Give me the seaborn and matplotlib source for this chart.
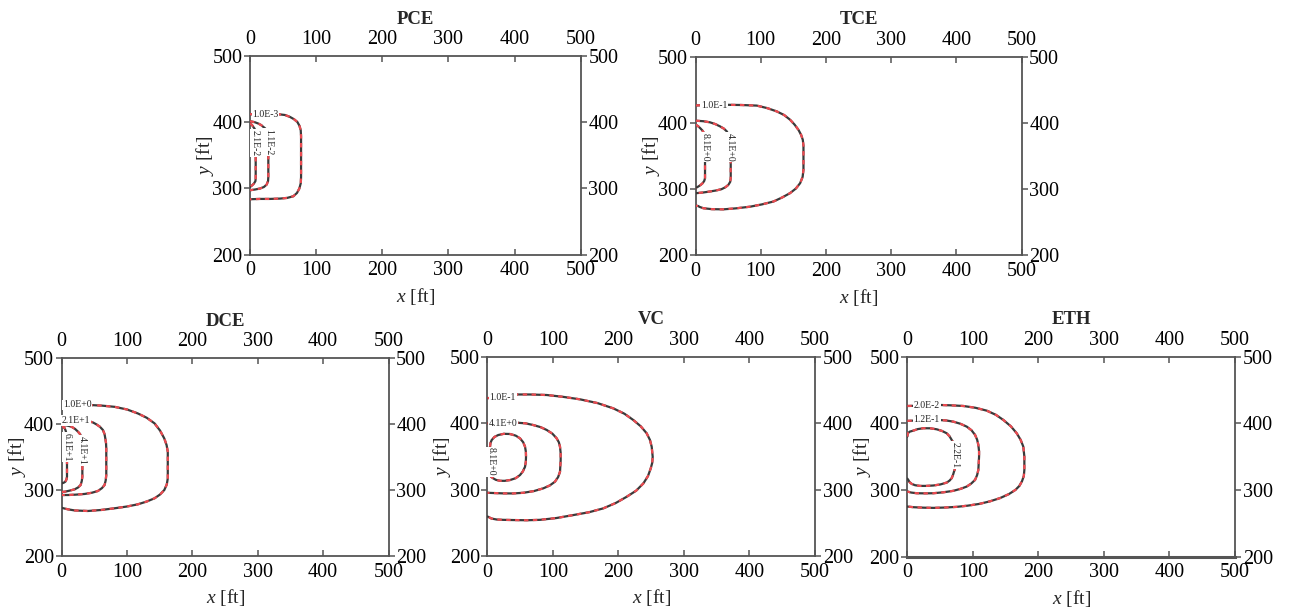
import numpy as np
import pandas as pd
import matplotlib
matplotlib.use("Agg")
import matplotlib.pyplot as plt
import seaborn as sns

sns.set_theme(style="white")
plt.rcParams['font.family'] = ['Liberation Serif', 'DejaVu Serif']
plt.rcParams['mathtext.fontset'] = 'custom'
plt.rcParams['mathtext.rm'] = 'Liberation Serif'
plt.rcParams['mathtext.it'] = 'Liberation Serif:italic'

# ---------------- data ----------------
TITLES = ["PCE", "TCE", "DCE", "VC", "ETH"]
XTICKS = [0, 100, 200, 300, 400, 500]
YTICKS = [200, 300, 400, 500]

PCE_LEVELS = ["1.0E-3", "1.1E-2", "2.1E-2"]
PCE_X = [
    [0, 20, 43, 53, 60.5, 66.5, 71.6, 74.8, 76.7, 77.2, 77.2, 76.8, 74.6, 71, 65.5, 56, 45.4, 30, 15.1, 0],
    [0, 7, 12.6, 17, 20.2, 23, 25.2, 27, 27.7, 27.7, 27.3, 25.2, 21, 15.1, 8, 0],
    [0, 2.8, 5, 7, 8.6, 8.6, 8.2, 6, 3.2, 0],
]
PCE_Y = [
    [412, 412, 412, 410.8, 407.9, 404.5, 400.3, 394.5, 387.8, 379, 317.2, 308, 299.7, 293, 288, 285.5, 284.5, 284, 284, 283.5],
    [401.4, 400, 397.9, 395.5, 392.8, 390.5, 387.8, 383, 378, 317.2, 311, 305.7, 302, 299.7, 298.3, 297.1],
    [397.9, 396, 392.8, 390, 386.7, 314.8, 311, 307.3, 304.5, 302],
]

TCE_LEVELS = ["1.0E-1", "4.1E+0", "8.1E+0"]
TCE_X = [
    [0, 12, 28, 46.8, 70, 94, 110, 124.7, 136, 145, 152, 158, 162, 164.6, 165.6, 165.6, 164.3, 160.5, 154, 145, 133, 119.5, 102, 83.7, 62, 42.7, 25, 12, 6, 4.3, 0],
    [0, 12, 22.3, 30.5, 37.6, 43.5, 47.9, 51, 53, 54, 54, 53.2, 50.4, 46, 40, 31.5, 22.3, 12, 1.8, 0],
    [0, 3.6, 6.9, 10.3, 13, 14.2, 14.6, 14.6, 13.4, 11, 7.8, 4.3, 0],
]
TCE_Y = [
    [426, 426.5, 427, 427, 426.7, 425.8, 422, 417, 411.5, 404.5, 397, 389, 381.5, 374, 365, 329, 318, 308.6, 300.5, 293.5, 287, 280.8, 276.5, 273, 270.5, 269, 269.3, 270.7, 272.8, 274, 274.5],
    [403, 402.2, 400.5, 397.8, 394.4, 391, 386.9, 381.5, 375, 365, 316, 310.5, 306, 302.5, 299.5, 297.5, 296, 294.5, 293.5, 293.3],
    [397, 395, 392, 388.5, 384.4, 379, 372, 316, 312, 308.6, 305.8, 303.5, 301],
]

DCE_LEVELS = ["1.0E+0", "2.1E+1", "4.1E+1", "6.1E+1"]
DCE_X = [
    [0, 20, 42.7, 62, 81, 100, 116.5, 130, 142, 150.5, 157, 160.5, 162.3, 162.3, 160.8, 157, 150.5, 142, 130, 116.5, 100, 81, 60, 40, 20, 9.7, 4, 0],
    [0, 20, 40.2, 47.5, 53, 58.5, 63, 65.5, 66.7, 67.8, 68.2, 68.2, 67.3, 65.6, 61.5, 55.4, 46, 35, 22, 9.7, 0],
    [0, 8, 14.8, 20.5, 25, 28, 30, 31.6, 31.6, 30.7, 29, 25, 19.8, 12, 4.6, 0],
    [0, 2.5, 4.6, 6, 7.1, 8.1, 8.1, 7.3, 5.6, 3, 0],
]
DCE_Y = [
    [427, 428, 428.8, 427.8, 426, 422, 416, 409.5, 401, 390, 378, 368, 358, 317.7, 308.5, 300, 293.2, 287.4, 282.5, 278.3, 275, 272.3, 269.7, 268.2, 269, 270.7, 272, 273],
    [404.5, 405, 404.5, 402.5, 399.5, 395.8, 391, 385, 378.3, 371, 363, 322.7, 314.5, 307.6, 302.8, 298.5, 295.8, 294, 293, 292.4, 292.4],
    [398.5, 397.7, 396, 392.5, 388.3, 384.8, 380.8, 373, 320, 313.5, 307.6, 303.8, 301, 299, 297.4, 297],
    [397, 395.5, 393.5, 390, 386, 380, 320, 316, 312.6, 311, 310],
]

VC_LEVELS = ["1.0E-1", "4.1E+0", "8.1E+0"]
VC_X = [
    [0, 30, 43.5, 65, 90.4, 115, 141.2, 168, 192, 209, 222.6, 234, 243, 248, 250.7, 252.2, 251.5, 249.2, 245, 238, 227, 212.5, 196, 176.8, 155, 131, 105, 80, 60, 39.4, 24, 14, 6, 1.2, 0],
    [0, 20, 44.5, 58, 70, 81, 90.4, 99, 105.6, 109, 110.7, 111.7, 111.7, 110.7, 107.8, 103, 95, 85.2, 71, 54.7, 39, 24, 10, 0],
    [3.8, 4.6, 6.4, 10.6, 16.5, 25, 34.4, 43, 49.6, 54.5, 57.3, 58.6, 58.8, 58.5, 57.3, 54, 49.6, 43, 34.4, 26, 19, 12.8, 8.9, 5.6, 3.8, 3.8],
]
VC_Y = [
    [438, 440, 443.5, 443.5, 442.7, 440, 436.2, 430.5, 422.6, 414.5, 405, 395.5, 385, 375, 364.7, 349.6, 340.5, 332, 320.5, 309.5, 298.5, 289.3, 280, 271.8, 266, 261.7, 257.2, 254.5, 253.9, 254.2, 254.5, 255, 256.5, 259, 259.5],
    [400, 400.5, 401, 400, 397.4, 394.3, 390, 384.5, 377.4, 371.3, 364.7, 355, 344.6, 327, 319, 312, 306.3, 302, 297.9, 295.3, 294.3, 294.4, 294.9, 295.3],
    [364.7, 370.5, 374.8, 379.5, 382.4, 384.2, 383.9, 381.5, 377.4, 371.5, 364.7, 357, 349.6, 342, 334.5, 327.5, 322, 317.3, 314.5, 313.3, 313.4, 314.8, 317, 319.3, 322, 364.7],
]

ETH_LEVELS = ["2.0E-2", "1.2E-1", "2.2E-1"]
ETH_X = [
    [0, 20, 47.3, 66, 85.5, 104, 121.2, 135, 146.6, 158, 167, 173, 177, 178.6, 178.6, 177.8, 175, 171, 165, 155, 141.5, 126, 110, 92, 75, 57, 40, 25, 10, 0],
    [0, 20, 47.3, 59, 70.2, 81, 90.7, 98, 103.4, 106.5, 108.4, 109.5, 109.5, 108.4, 106.5, 103.4, 97.5, 90.7, 81, 70.2, 55, 39.7, 27, 14.4, 6, 0],
    [0, 0.8, 3.8, 9.2, 16, 24.4, 35, 44.9, 53, 60.2, 64.5, 67.8, 70.7, 72.8, 72.8, 72.5, 71.3, 69.8, 67.8, 64.5, 60.2, 50.5, 39.7, 29, 19.4, 12, 6.7, 3.3, 1.5, 0],
]
ETH_Y = [
    [426, 426.5, 427.6, 427, 426, 423.3, 419, 412.8, 405, 395.5, 385, 375, 365, 350, 330, 321, 313, 306, 300, 293.7, 287.7, 282.8, 279, 276.3, 274.5, 273.5, 273, 273.3, 274, 275],
    [403.6, 404.5, 405, 404.3, 402.5, 399.3, 395, 389.5, 382.6, 375.5, 367.6, 358, 350, 330, 322.2, 315, 309.5, 305, 301.5, 298.6, 296.4, 295, 294.8, 295, 296, 297.6],
    [380, 385, 387.5, 389, 391.3, 392.6, 392.5, 391, 388.5, 385, 380.4, 375, 370, 365, 335, 331, 327.6, 322.6, 317.7, 314, 311, 308.2, 306.6, 306, 306, 307, 309, 311.8, 315, 317],
]

# ---------------- layout / style ----------------
W, H = 1289, 609
PANELS = {  # left, right, top, bottom in pixels
    "PCE": (250, 580.7, 56, 254.5),
    "TCE": (695.5, 1021.5, 56.5, 255),
    "DCE": (61.7, 388.5, 358, 556),
    "VC": (487.5, 815, 357, 556),
    "ETH": (907.3, 1235, 356.7, 556.5),
}
LABEL_POS = {
    "PCE": [(23.5, 412, 0), (27.7, 370, -90), (8.2, 369, -90)],
    "TCE": [(28.9, 425.5, 0), (53.5, 363, -90), (14.6, 363, -90)],
    "DCE": [(24, 428.8, 0), (22.4, 405.5, 0), (31.6, 360, -90), (8.1, 365, -90)],
    "VC": [(23, 438.5, 0), (23.2, 400.5, 0), (5.5, 342, -90)],
    "ETH": [(29.6, 426.8, 0), (29.6, 405, 0), (72.8, 352.6, -90)],
}
DATA = {
    "PCE": (PCE_LEVELS, PCE_X, PCE_Y),
    "TCE": (TCE_LEVELS, TCE_X, TCE_Y),
    "DCE": (DCE_LEVELS, DCE_X, DCE_Y),
    "VC": (VC_LEVELS, VC_X, VC_Y),
    "ETH": (ETH_LEVELS, ETH_X, ETH_Y),
}

SPINE = "#555555"
DARK = "#3a3a3a"
RED = "#ec4a50"

fig = plt.figure(figsize=(W / 100, H / 100), dpi=100)
fig.patch.set_facecolor("white")

for name in TITLES:
    l, r, t, b = PANELS[name]
    ax = fig.add_axes([l / W, 1 - b / H, (r - l) / W, (b - t) / H])
    levels, xs_list, ys_list = DATA[name]
    for xs, ys in zip(xs_list, ys_list):
        df = pd.DataFrame({"x": xs, "y": ys})
        sns.lineplot(data=df, x="x", y="y", sort=False, estimator=None, ax=ax,
                     color=DARK, linewidth=1.6, zorder=3)
        sns.lineplot(data=df, x="x", y="y", sort=False, estimator=None, ax=ax,
                     color=RED, linewidth=1.6, linestyle=(0, (2, 2)), zorder=4)
    for lev, (lx, ly, rot) in zip(levels, LABEL_POS[name]):
        ax.text(lx, ly, lev, rotation=rot, ha="center", va="center", fontsize=7,
                color="#222222", zorder=6,
                bbox=dict(boxstyle="square,pad=0.08", fc="white", ec="none"))

    ax.set_xlim(0, 500)
    ax.set_ylim(200, 500)
    ax.set_xticks(XTICKS)
    ax.set_yticks(YTICKS)
    ax.set_xlabel("")
    ax.set_ylabel("")
    for sp in ax.spines.values():
        sp.set_visible(True)
        sp.set_color(SPINE)
        sp.set_linewidth(1.3)
    if name == "ETH":
        ax.spines["bottom"].set_linewidth(2.2)
    ax.tick_params(axis="x", direction="in", top=True, bottom=True, labeltop=True,
                   labelbottom=True, length=4, width=1.1, color=SPINE, pad=5,
                   labelsize=14.5, labelcolor="black")
    ax.tick_params(axis="y", direction="out", left=True, right=True, labelleft=True,
                   labelright=True, length=4.5, width=1.1, color=SPINE, pad=1,
                   labelsize=14.5, labelcolor="black")
    ax.grid(False)

    ax.annotate(name, xy=(0.5, 1), xycoords="axes fraction", xytext=(0, 37),
                textcoords="offset pixels", ha="center", va="center",
                fontsize=13.5, fontweight="bold")
    ax.annotate("$x$ [ft]", xy=(0.5, 0), xycoords="axes fraction", xytext=(0, -42),
                textcoords="offset pixels", ha="center", va="center", fontsize=14)
    ax.annotate("$y$ [ft]", xy=(0, 0.5), xycoords="axes fraction", xytext=(-45, 0),
                textcoords="offset pixels", ha="center", va="center", fontsize=14,
                rotation=90)

fig.savefig("out.png", dpi=100, facecolor="white")
